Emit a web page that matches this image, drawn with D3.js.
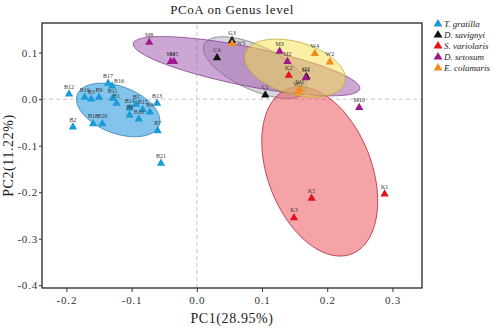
<!DOCTYPE html>
<html>
<head>
<meta charset="utf-8">
<script src="https://cdn.jsdelivr.net/npm/d3@7"></script>
<style>
  body { margin: 0; background: #fff; }
  text { font-family: "Liberation Serif", "Times New Roman", serif; }
</style>
</head>
<body>
<script>
// PCoA scores (PC1, PC2) for each species
const tGratilla = [
  {id: "B12", pc1: -0.196, pc2: 0.011}, {id: "B19", pc1: -0.172, pc2: 0.004},
  {id: "B3", pc1: -0.162, pc2: 0.000}, {id: "B9", pc1: -0.150, pc2: 0.004},
  {id: "B11", pc1: -0.129, pc2: 0.002}, {id: "B17", pc1: -0.136, pc2: 0.034},
  {id: "B16", pc1: -0.130, pc2: 0.028}, {id: "B1", pc1: -0.123, pc2: -0.009},
  {id: "B14", pc1: -0.103, pc2: -0.019}, {id: "B5", pc1: -0.093, pc2: -0.011},
  {id: "B15", pc1: -0.083, pc2: -0.023}, {id: "B13", pc1: -0.061, pc2: -0.009},
  {id: "B4", pc1: -0.072, pc2: -0.028}, {id: "B8", pc1: -0.103, pc2: -0.034},
  {id: "B10", pc1: -0.089, pc2: -0.043}, {id: "B7", pc1: -0.060, pc2: -0.068},
  {id: "B18", pc1: -0.159, pc2: -0.053}, {id: "B20", pc1: -0.145, pc2: -0.053},
  {id: "B2", pc1: -0.190, pc2: -0.060}, {id: "B21", pc1: -0.055, pc2: -0.138}
];
const dSavignyi = [
  {id: "G3", pc1: 0.054, pc2: 0.126}, {id: "C4", pc1: 0.031, pc2: 0.089},
  {id: "G2", pc1: 0.168, pc2: 0.048}, {id: "C1", pc1: 0.105, pc2: 0.009}
];
const sVariolaris = [
  {id: "K2", pc1: 0.141, pc2: 0.051}, {id: "K5", pc1: 0.176, pc2: -0.213},
  {id: "K3", pc1: 0.149, pc2: -0.255}, {id: "K1", pc1: 0.288, pc2: -0.204}
];
const dSetosum = [
  {id: "M8", pc1: -0.073, pc2: 0.122}, {id: "M4", pc1: -0.040, pc2: 0.081},
  {id: "M5", pc1: -0.035, pc2: 0.081}, {id: "M3", pc1: 0.127, pc2: 0.103},
  {id: "M2", pc1: 0.139, pc2: 0.081}, {id: "M1", pc1: 0.167, pc2: 0.046},
  {id: "M10", pc1: 0.249, pc2: -0.018}
];
const eColamaris = [
  {id: "W3", pc1: 0.054, pc2: 0.119}, {id: "W4", pc1: 0.181, pc2: 0.098},
  {id: "W2", pc1: 0.204, pc2: 0.080}, {id: "W1", pc1: 0.158, pc2: 0.021},
  {id: "W5", pc1: 0.155, pc2: 0.016}
];

const speciesNames = ["T. gratilla", "D. savignyi", "S. variolaris", "D. setosum", "E. colamaris"];
const speciesData = [tGratilla, dSavignyi, sVariolaris, dSetosum, eColamaris];
const xTicks = [-0.2, -0.1, 0.0, 0.1, 0.2, 0.3];
const yTicks = [0.1, 0.0, -0.1, -0.2, -0.3, -0.4];

// colours: point, ellipse fill, ellipse edge
const pointColor = ["#1a9ad6", "#111111", "#e0141e", "#a0188e", "#f08c1c"];
const fillColor = ["#2f9de0", "#9a9aae", "#e8323c", "#9b4fa8", "#f5e04a"];
const edgeColor = ["#1f6fa8", "#6a6a78", "#a0102a", "#7a2f86", "#b8a020"];
const fillOpacity = [0.6, 0.4, 0.45, 0.5, 0.5];

var width = 500, height = 328;
var margin = {left: 42, top: 23, right: 78, bottom: 40};

var svg = d3.select("body").append("svg")
  .attr("width", width)
  .attr("height", height);

var x = d3.scaleLinear()
  .domain([-0.2374, 0.3453])
  .range([margin.left, width - margin.right]);

var y = d3.scaleLinear()
  .domain([-0.406, 0.1638])
  .range([height - margin.bottom, margin.top]);

svg.append("defs").append("clipPath").attr("id", "plotClip")
  .append("rect")
  .attr("x", margin.left).attr("y", margin.top)
  .attr("width", x.range()[1] - x.range()[0])
  .attr("height", y.range()[0] - y.range()[1]);

// title
svg.append("text")
  .attr("x", (x.range()[0] + x.range()[1]) / 2)
  .attr("y", 14)
  .attr("text-anchor", "middle")
  .style("font-size", "13px")
  .style("letter-spacing", "0.6px")
  .style("fill", "#222")
  .text("PCoA on Genus level");

var plot = svg.append("g").attr("clip-path", "url(#plotClip)");

// zero reference lines
plot.append("line")
  .attr("x1", x.range()[0]).attr("x2", x.range()[1])
  .attr("y1", y(0)).attr("y2", y(0))
  .style("stroke", "#b8b8b8").style("stroke-dasharray", "4,3").style("stroke-width", 0.8);
plot.append("line")
  .attr("x1", x(0)).attr("x2", x(0))
  .attr("y1", y.range()[0]).attr("y2", y.range()[1])
  .style("stroke", "#b8b8b8").style("stroke-dasharray", "4,3").style("stroke-width", 0.8);

// 68% normal confidence ellipse from the group's covariance
function ellipsePath(pts) {
  var n = pts.length;
  var mx = d3.mean(pts, d => d.pc1), my = d3.mean(pts, d => d.pc2);
  var sxx = 0, syy = 0, sxy = 0;
  pts.forEach(function(d) {
    var dx = d.pc1 - mx, dy = d.pc2 - my;
    sxx += dx * dx; syy += dy * dy; sxy += dx * dy;
  });
  sxx /= n; syy /= n; sxy /= n;
  var ht = (sxx + syy) / 2, hd = (sxx - syy) / 2;
  var disc = Math.sqrt(hd * hd + sxy * sxy);
  var l1 = ht + disc, l2 = Math.max(ht - disc, 0);
  var th = 0.5 * Math.atan2(2 * sxy, sxx - syy);
  var k = Math.sqrt(-2 * Math.log(1 - 0.68));
  var a = k * Math.sqrt(l1), b = k * Math.sqrt(l2);
  var ring = d3.range(0, 360, 3).map(function(deg) {
    var t = deg * Math.PI / 180;
    var ex = a * Math.cos(t), ey = b * Math.sin(t);
    return [x(mx + ex * Math.cos(th) - ey * Math.sin(th)),
            y(my + ex * Math.sin(th) + ey * Math.cos(th))];
  });
  return d3.line().curve(d3.curveCardinalClosed)(ring);
}

plot.selectAll(".ellipse")
  .data(speciesData)
  .enter().append("path")
  .attr("class", "ellipse")
  .attr("d", ellipsePath)
  .style("fill", (d, i) => fillColor[i])
  .style("fill-opacity", (d, i) => fillOpacity[i])
  .style("stroke", (d, i) => edgeColor[i])
  .style("stroke-width", 0.7);

var tri = d3.symbol().type(d3.symbolTriangle).size(30);

// a few labels sit beside their point instead of above it
var labelShift = {W3: [9, 7], B16: [7, 2]};

speciesData.forEach(function(group, i) {
  var g = plot.append("g");
  g.selectAll("path")
    .data(group)
    .enter().append("path")
    .attr("d", tri)
    .attr("transform", d => `translate(${x(d.pc1)},${y(d.pc2)})`)
    .style("fill", pointColor[i]);
  g.selectAll("text")
    .data(group)
    .enter().append("text")
    .attr("x", d => x(d.pc1) + (labelShift[d.id] ? labelShift[d.id][0] : 0))
    .attr("y", d => y(d.pc2) - 5.5 + (labelShift[d.id] ? labelShift[d.id][1] : 0))
    .attr("text-anchor", "middle")
    .style("font-size", "6px")
    .style("fill", "#333")
    .text(d => d.id);
});

// frame
svg.append("rect")
  .attr("x", x.range()[0]).attr("y", y.range()[1])
  .attr("width", x.range()[1] - x.range()[0])
  .attr("height", y.range()[0] - y.range()[1])
  .style("fill", "none").style("stroke", "#111").style("stroke-width", 1.2);

// axes
var fmt = d => d.toFixed(1);
var xAxis = svg.append("g")
  .attr("transform", `translate(0,${y.range()[0]})`)
  .call(d3.axisBottom(x).tickValues(xTicks).tickFormat(fmt).tickSize(4).tickSizeOuter(0).tickPadding(4));
var yAxis = svg.append("g")
  .attr("transform", `translate(${x.range()[0]},0)`)
  .call(d3.axisLeft(y).tickValues(yTicks).tickFormat(fmt).tickSize(3).tickSizeOuter(0).tickPadding(1));

[xAxis, yAxis].forEach(function(ax) {
  ax.select(".domain").remove();
  ax.selectAll("line").style("stroke", "#333");
  ax.selectAll("text")
    .style("font-family", "'Liberation Serif', serif")
    .style("font-size", "11px")
    .style("letter-spacing", "0.8px")
    .style("fill", "#333");
});

svg.append("text")
  .attr("x", (x.range()[0] + x.range()[1]) / 2)
  .attr("y", 323)
  .attr("text-anchor", "middle")
  .style("font-size", "14px")
  .style("letter-spacing", "0.6px")
  .style("fill", "#222")
  .text("PC1(28.95%)");

svg.append("text")
  .attr("transform", `translate(13,${(y.range()[0] + y.range()[1]) / 2}) rotate(-90)`)
  .attr("text-anchor", "middle")
  .style("font-size", "14px")
  .style("letter-spacing", "0.6px")
  .style("fill", "#222")
  .text("PC2(11.22%)");

// legend
var legend = svg.append("g").attr("transform", "translate(438,24)");
var item = legend.selectAll("g")
  .data(speciesNames)
  .enter().append("g")
  .attr("transform", (d, i) => `translate(0,${i * 11})`);
item.append("path")
  .attr("d", d3.symbol().type(d3.symbolTriangle).size(34))
  .style("fill", (d, i) => pointColor[i]);
item.append("text")
  .attr("x", 6)
  .attr("y", 3)
  .style("font-size", "9px")
  .style("font-style", "italic")
  .style("fill", "#222")
  .text(d => d);
</script>
</body>
</html>
